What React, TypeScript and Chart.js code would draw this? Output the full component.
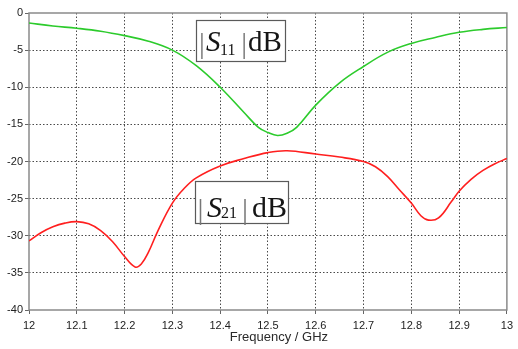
import React, { useEffect, useRef } from 'react';
import { Chart, registerables } from 'chart.js';

Chart.register(...registerables);

// ---- data ----
const s11Freq = [12.0, 12.05, 12.1, 12.15, 12.2, 12.25, 12.3, 12.35, 12.4, 12.45, 12.48, 12.5, 12.52, 12.54, 12.56, 12.6, 12.65, 12.7, 12.75, 12.8, 12.85, 12.9, 12.95, 13.0];
const s11Db = [-1.35, -1.75, -2.05, -2.45, -3.05, -3.8, -5.0, -7.1, -10.0, -13.4, -15.4, -16.1, -16.5, -16.2, -15.4, -12.4, -9.4, -7.2, -5.3, -4.1, -3.3, -2.6, -2.2, -1.95];

const s21Freq = [12.0, 12.025, 12.05, 12.075, 12.1, 12.125, 12.15, 12.175, 12.2, 12.222, 12.235, 12.25, 12.27, 12.3, 12.325, 12.35, 12.4, 12.45, 12.5, 12.54, 12.6, 12.65, 12.7, 12.725, 12.75, 12.775, 12.8, 12.82, 12.836, 12.857, 12.884, 12.9, 12.925, 12.95, 12.975, 13.0];
const s21Db = [-30.7, -29.6, -28.8, -28.3, -28.1, -28.4, -29.3, -30.8, -32.8, -34.2, -33.8, -32.2, -29.3, -25.6, -23.6, -22.2, -20.6, -19.6, -18.8, -18.55, -19.0, -19.4, -20.0, -20.7, -22.0, -23.8, -25.6, -27.3, -27.9, -27.6, -25.4, -24.0, -22.4, -21.2, -20.3, -19.6];

const xTickValues = [12, 12.1, 12.2, 12.3, 12.4, 12.5, 12.6, 12.7, 12.8, 12.9, 13];
const yTickValues = [0, -5, -10, -15, -20, -25, -30, -35, -40];
const xTitle = 'Frequency / GHz';

// annotation boxes: subscript label and anchor (data coords of top-left corner)
const boxSubs = ['11', '21'];
const boxAnchorX = [12.35, 12.347];
const boxAnchorY = [-0.9, -22.6];

const toPoints = (xs: number[], ys: number[]) => xs.map((x, i) => ({ x, y: ys[i] }));

// layout of the text inside each box (pixels relative to the box's top-left)
const boxLayout = [
  { w: 89, h: 41, size: 29, base: 30, bar1: 2.4, s: 9.5, sub: 23.5, subBase: 34, bar2: 44.8, db: 51.5 },
  { w: 93, h: 42, size: 30, base: 35, bar1: 2, s: 11.5, sub: 25.5, subBase: 36.5, bar2: 46.5, db: 56.5 },
];

const boxPlugin = {
  id: 'sBoxes',
  beforeDatasetsDraw(chart: any) {
    const { ctx, chartArea: a } = chart;
    ctx.save();
    ctx.strokeStyle = '#8a8a8a';
    ctx.lineWidth = 1.5;
    ctx.strokeRect(a.left, a.top, a.right - a.left, a.bottom - a.top);
    ctx.restore();
  },
  afterDatasetsDraw(chart: any) {
    const { ctx, scales } = chart;
    const xs = scales.x;
    const ys = scales.y;
    boxSubs.forEach((sub, i) => {
      const L = boxLayout[i];
      const bx = Math.round(xs.getPixelForValue(boxAnchorX[i])) + 0.5;
      const by = Math.round(ys.getPixelForValue(boxAnchorY[i])) + 0.5;
      ctx.save();
      ctx.fillStyle = '#ffffff';
      ctx.fillRect(bx, by, L.w, L.h);
      ctx.strokeStyle = '#5a5a5a';
      ctx.lineWidth = 1.2;
      ctx.strokeRect(bx, by, L.w, L.h);
      ctx.textBaseline = 'alphabetic';
      ctx.textAlign = 'left';
      const base = by + L.base;
      ctx.fillStyle = '#777777';
      ctx.font = `${L.size}px "Liberation Serif"`;
      ctx.fillText('|', bx + L.bar1, base + 2);
      ctx.fillText('|', bx + L.bar2, base + 2);
      ctx.fillStyle = '#151515';
      ctx.font = `italic ${L.size}px "Liberation Serif"`;
      ctx.fillText('S', bx + L.s, base);
      ctx.font = '16px "Liberation Serif"';
      ctx.fillText(sub, bx + L.sub, by + L.subBase);
      ctx.font = `${L.size}px "Liberation Serif"`;
      ctx.fillText('dB', bx + L.db, base);
      ctx.restore();
    });
  },
  afterDraw(chart: any) {
    const { ctx, scales } = chart;
    const xs = scales.x;
    const cx = (xs.left + xs.right) / 2 + 11;
    ctx.save();
    ctx.fillStyle = '#2a2a2a';
    ctx.font = '13px "Liberation Sans", Arial, sans-serif';
    ctx.textAlign = 'center';
    ctx.textBaseline = 'alphabetic';
    ctx.fillText(xTitle, cx, 341);
    ctx.restore();
  },
};

export default function App() {
  const ref = useRef<HTMLCanvasElement | null>(null);
  useEffect(() => {
    if (!ref.current) return;
    const edgeX = (v: number) => v === xTickValues[0] || v === xTickValues[xTickValues.length - 1];
    const edgeY = (v: number) => v === yTickValues[0] || v === yTickValues[yTickValues.length - 1];
    const chart = new Chart(ref.current, {
      type: 'line',
      data: {
        datasets: [
          {
            label: '|S11| dB',
            data: toPoints(s11Freq, s11Db),
            borderColor: '#2ccb2c',
            borderWidth: 1.6,
            pointRadius: 0,
            tension: 0.4,
            fill: false,
          },
          {
            label: '|S21| dB',
            data: toPoints(s21Freq, s21Db),
            borderColor: '#ff1f1f',
            borderWidth: 1.6,
            pointRadius: 0,
            tension: 0.4,
            fill: false,
          },
        ],
      },
      options: {
        animation: false,
        responsive: true,
        maintainAspectRatio: false,
        layout: { padding: { top: 13, right: 4, left: 0, bottom: 0 } },
        plugins: { legend: { display: false }, tooltip: { enabled: false }, title: { display: false } },
        scales: {
          x: {
            type: 'linear',
            min: 12,
            max: 13,
            afterBuildTicks: (s: any) => { s.ticks = xTickValues.map((v) => ({ value: v })); },
            afterFit: (s: any) => { s.height = 39; },
            ticks: {
              autoSkip: false,
              maxRotation: 0,
              padding: 5,
              color: '#222222',
              font: { family: '"Liberation Sans", Arial, sans-serif', size: 11 },
              callback: (v: any) => String(Math.round(Number(v) * 10) / 10),
            },
            grid: {
              color: (c: any) => (c.tick && edgeX(c.tick.value) ? 'rgba(0,0,0,0)' : '#4a4a4a'),
              lineWidth: 1,
              tickLength: 4,
              tickColor: '#666666',
              tickBorderDash: [],
            },
            border: { display: false, dash: [1.5, 2] },
            title: { display: false },
          },
          y: {
            type: 'linear',
            min: -40,
            max: 0,
            afterBuildTicks: (s: any) => { s.ticks = yTickValues.map((v) => ({ value: v })); },
            afterFit: (s: any) => { s.width = 29; },
            ticks: {
              autoSkip: false,
              padding: 2,
              color: '#222222',
              font: { family: '"Liberation Sans", Arial, sans-serif', size: 11 },
              callback: (v: any) => String(v),
            },
            grid: {
              color: (c: any) => (c.tick && edgeY(c.tick.value) ? 'rgba(0,0,0,0)' : '#4a4a4a'),
              lineWidth: 1,
              tickLength: 4,
              tickColor: '#666666',
              tickBorderDash: [],
            },
            border: { display: false, dash: [1.5, 2] },
          },
        },
      },
      plugins: [boxPlugin],
    } as any);
    return () => chart.destroy();
  }, []);
  return (
    <div style={{ position: 'absolute', left: 0, top: 0, width: 518, height: 349, background: '#ffffff' }}>
      <canvas ref={ref} />
    </div>
  );
}
